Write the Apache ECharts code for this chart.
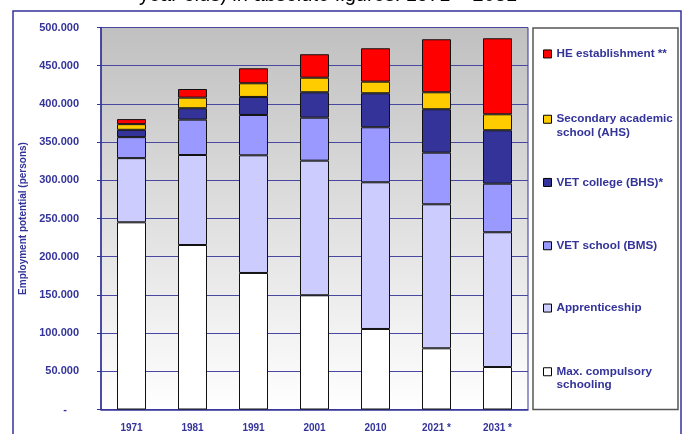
<!DOCTYPE html>
<html><head><meta charset="utf-8">
<script src="https://cdn.jsdelivr.net/npm/echarts@6/dist/echarts.min.js"></script>
<style>html,body{margin:0;padding:0;background:#fff}#c{width:684px;height:434px}</style>
</head><body><div id="c"></div>
<script>
const categories = ['1971','1981','1991','2001','2010','2021 *','2031 *'];
const compulsory    = [245000, 215300, 178700, 149500, 105400,  80100,  55600];
const apprenticeship= [ 84000, 117800, 154000, 176200, 192000, 188500, 176400];
const vetSchool     = [ 27500,  46300,  52800,  56300,  72000,  67600,  63600];
const vetCollege    = [  9600,  14900,  23600,  33200,  44500,  56800,  69900];
const secondaryAcad = [  7400,  13900,  17900,  19100,  15200,  22200,  20900];
const heEstablish   = [  6600,  11300,  19600,  30700,  43700,  69400,  99500];
const titleLine = 'year olds) in absolute figures: 1971 – 2031';
const yAxisName = 'Employment potential (persons)';

const seriesDefs = [
  {name:'Max. compulsory schooling', label:'\nMax. compulsory\nschooling', data:compulsory, color:'#FFFFFF'},
  {name:'Apprenticeship', label:'Apprenticeship', data:apprenticeship, color:'#CCCCFF'},
  {name:'VET school (BMS)', label:'VET school (BMS)', data:vetSchool, color:'#9999FF'},
  {name:'VET college (BHS)*', label:'VET college (BHS)*', data:vetCollege, color:'#333399'},
  {name:'Secondary academic school (AHS)', label:'\nSecondary academic\nschool (AHS)', data:secondaryAcad, color:'#FFCC00'},
  {name:'HE establishment **', label:'HE establishment **', data:heEstablish, color:'#FF0000'}
];
const legendTops = [351.5, 301.3, 239, 175.7, 99, 47.2];

const TXT = '#333399';
const fmt = v => v === 0 ? '{z|-}' : String(v).replace(/\B(?=(\d{3})+(?!\d))/g, '.');

const legends = seriesDefs.map((s, i) => ({
  left: 543, top: legendTops[i], padding: 0, orient: 'vertical',
  selectedMode: false, icon: 'rect', itemWidth: 8, itemHeight: 8, itemGap: 0,
  itemStyle: {borderColor: '#000', borderWidth: 1},
  data: [s.name],
  formatter: () => s.label,
  textStyle: {color: TXT, fontFamily: 'Liberation Sans, Arial', fontWeight: 'bold', fontSize: 11.7, lineHeight: 13.5}
}));

const chart = echarts.init(document.getElementById('c'), null, {renderer: 'canvas'});
chart.setOption({
  animation: false,
  textStyle: {fontFamily: 'Liberation Sans, Arial'},
  grid: {left: 101, right: 156, top: 27.5, bottom: 24.5, show: true, borderColor: '#333399', borderWidth: 1,
    backgroundColor: new echarts.graphic.LinearGradient(0, 0, 0, 1, [{offset: 0, color: '#C0C0C0'}, {offset: 1, color: '#FFFFFF'}])},
  legend: legends,
  graphic: [
    {type: 'rect', shape: {x: 13, y: 11, width: 668, height: 440}, style: {fill: 'none', stroke: '#333399', lineWidth: 1.5}, z: -1},
    {type: 'rect', shape: {x: 533, y: 28, width: 145, height: 381.5}, style: {fill: '#fff', stroke: '#555', lineWidth: 1.5}, z: 0},
    {type: 'text', x: 328, y: -5, style: {text: titleLine, align: 'center', verticalAlign: 'middle', fill: '#000', fontSize: 20, fontFamily: 'Liberation Sans, Arial'}}
  ],
  xAxis: {
    type: 'category', data: categories,
    axisLine: {lineStyle: {color: '#333399', width: 1.5}},
    axisTick: {show: false},
    axisLabel: {color: TXT, fontWeight: 'bold', fontSize: 10, margin: 14}
  },
  yAxis: {
    type: 'value', min: 0, max: 500000, interval: 50000,
    name: yAxisName, nameLocation: 'middle', nameRotate: 90, nameGap: 73,
    nameTextStyle: {color: TXT, fontWeight: 'bold', fontSize: 10},
    axisLine: {show: true, lineStyle: {color: '#333399', width: 1.5}},
    axisTick: {show: true, length: 4, inside: false, lineStyle: {color: '#333399'}},
    splitLine: {lineStyle: {color: '#4848A0', width: 1}},
    axisLabel: {color: TXT, fontWeight: 'bold', fontSize: 11, margin: 22, formatter: fmt,
      rich: {z: {color: TXT, fontWeight: 'bold', fontSize: 11, padding: [0, 12, 0, 0]}}}
  },
  series: seriesDefs.map(s => ({
    name: s.name, type: 'bar', stack: 'total', data: s.data, barWidth: 29,
    itemStyle: {color: s.color, borderColor: '#111', borderWidth: 1}
  }))
});
</script></body></html>
